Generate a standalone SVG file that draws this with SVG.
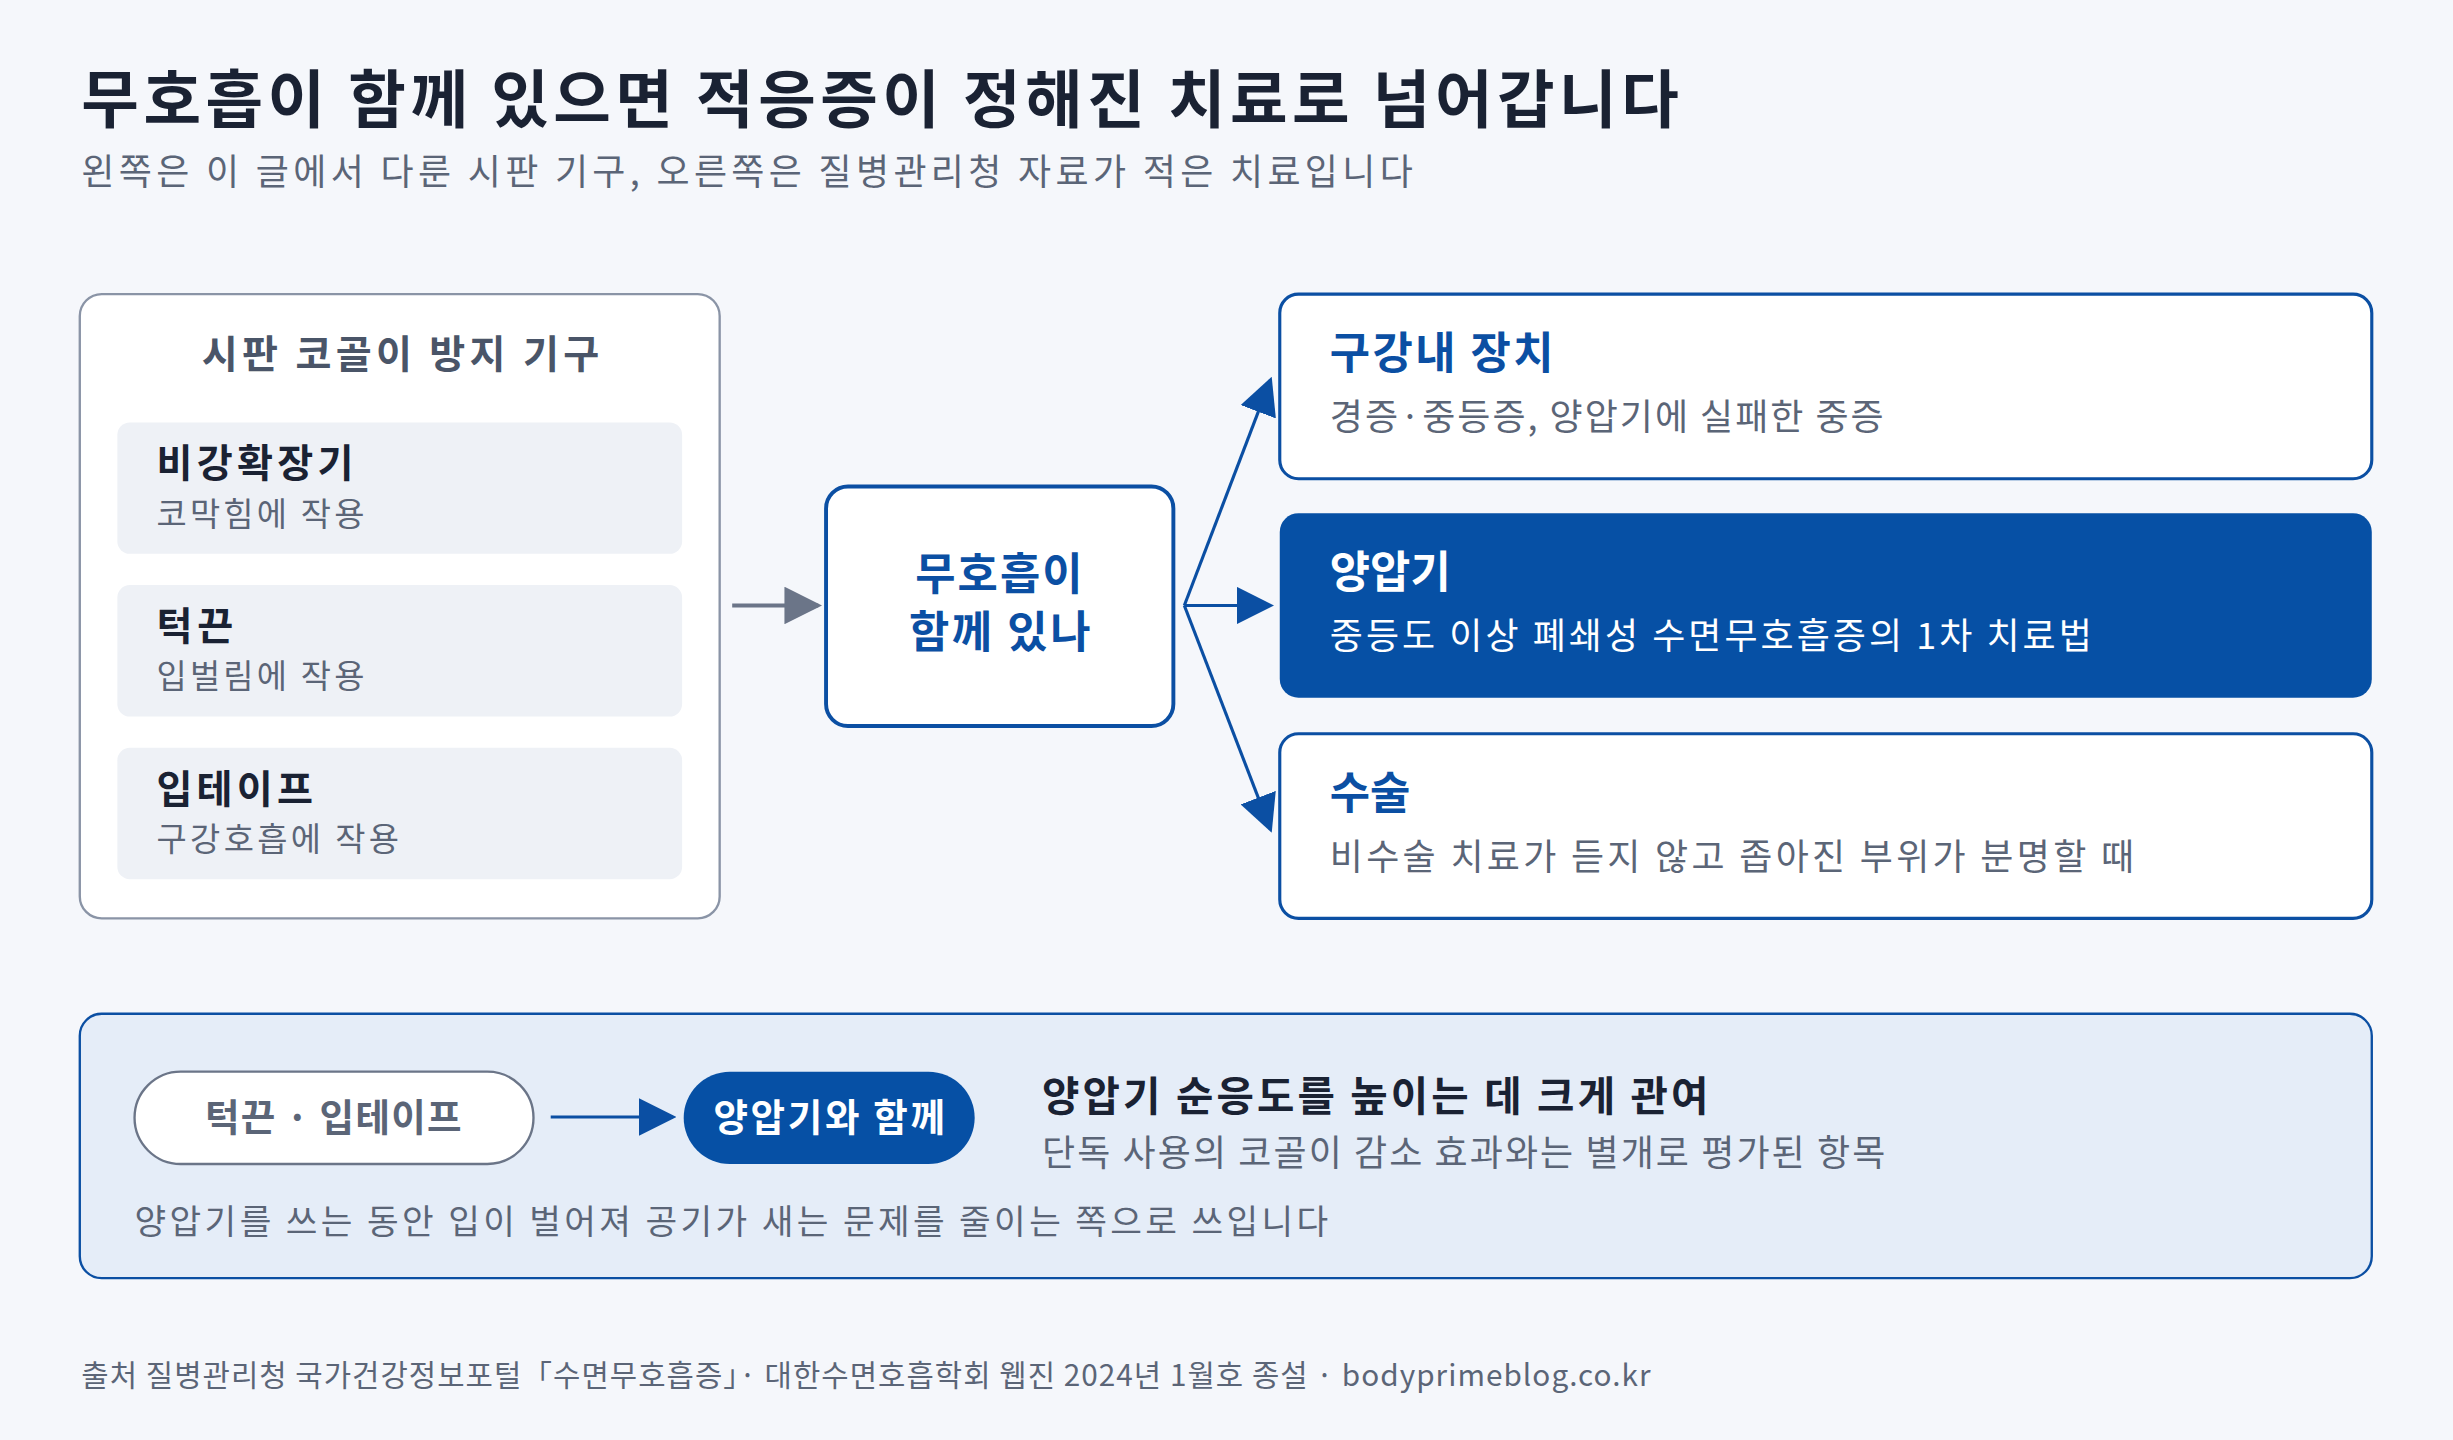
<svg xmlns="http://www.w3.org/2000/svg" width="2453" height="1440" viewBox="0 0 2453 1440">
<style>
text{font-family:"Noto Sans CJK KR","Noto Sans",sans-serif}
.b{font-weight:700}
.t{fill:#1a2233}.g{fill:#5b6577}.bl{fill:#0b4fa3}.w{fill:#fff}
.card{fill:#fff;stroke:#0b4fa3;stroke-width:2}
.item{fill:#eef1f6}
</style>
<defs>
<marker id="ab" viewBox="0 0 10 10" refX="9" refY="5" markerUnits="userSpaceOnUse" markerWidth="24" markerHeight="24" orient="auto"><path d="M0,0L10,5L0,10z" fill="#0b4fa3"/></marker>
<marker id="ag" viewBox="0 0 10 10" refX="9" refY="5" markerUnits="userSpaceOnUse" markerWidth="24" markerHeight="24" orient="auto"><path d="M0,0L10,5L0,10z" fill="#6b7588"/></marker>
</defs>
<rect width="2453" height="1440" fill="#f5f7fb"/>
<g transform="scale(1.5645)">
<g id="title"><text x="52" y="78" font-size="40" class="b t" textLength="1021" lengthAdjust="spacing">무호흡이 함께 있으면 적응증이 정해진 치료로 넘어갑니다</text>
<text x="52" y="118" font-size="23" class="g" textLength="851" lengthAdjust="spacing">왼쪽은 이 글에서 다룬 시판 기구, 오른쪽은 질병관리청 자료가 적은 치료입니다</text></g>
<g id="devices">
<rect x="51" y="188" width="409" height="399" rx="14" fill="#fff" stroke="#8a94a6" stroke-width="1.5"/>
<text x="129" y="235" font-size="25" class="b" fill="#4a5568" textLength="254" lengthAdjust="spacing">시판 코골이 방지 기구</text>
<rect x="75" y="270" width="361" height="84" rx="8" class="item"/>
<text x="100" y="305" font-size="25" class="b t" textLength="126" lengthAdjust="spacing">비강확장기</text><text x="100" y="336" font-size="21" class="g" textLength="133" lengthAdjust="spacing">코막힘에 작용</text>
<rect x="75" y="374" width="361" height="84" rx="8" class="item"/>
<text x="100" y="409" font-size="25" class="b t" textLength="49" lengthAdjust="spacing">턱끈</text><text x="100" y="440" font-size="21" class="g" textLength="133" lengthAdjust="spacing">입벌림에 작용</text>
<rect x="75" y="478" width="361" height="84" rx="8" class="item"/>
<text x="100" y="513" font-size="25" class="b t" textLength="100" lengthAdjust="spacing">입테이프</text><text x="100" y="544" font-size="21" class="g" textLength="155" lengthAdjust="spacing">구강호흡에 작용</text>
</g>
<g id="q"><rect x="528" y="311" width="222" height="153" rx="14" fill="#fff" stroke="#0b4fa3" stroke-width="2.5"/>
<text x="585" y="377" font-size="28" class="b bl" textLength="107" lengthAdjust="spacing">무호흡이</text>
<text x="581" y="414" font-size="28" class="b bl" textLength="116" lengthAdjust="spacing">함께 있나</text></g>
<g id="r1"><rect x="818" y="188" width="698" height="118" rx="12" class="card"/>
<text x="850" y="236" font-size="28" class="b bl" textLength="143" lengthAdjust="spacing">구강내 장치</text><text x="850" y="275" font-size="23" class="g" textLength="354" lengthAdjust="spacing">경증·중등증, 양압기에 실패한 중증</text></g>
<g id="r2"><rect x="818" y="328" width="698" height="118" rx="12" fill="#0650a5"/>
<text x="850" y="376" font-size="28" class="b w">양압기</text><text x="850" y="415" font-size="23" class="w" textLength="487" lengthAdjust="spacing">중등도 이상 폐쇄성 수면무호흡증의 1차 치료법</text></g>
<g id="r3"><rect x="818" y="469" width="698" height="118" rx="12" class="card"/>
<text x="850" y="517" font-size="28" class="b bl">수술</text><text x="850" y="556" font-size="23" class="g" textLength="514" lengthAdjust="spacing">비수술 치료가 듣지 않고 좁아진 부위가 분명할 때</text></g>
<g id="bottom"><rect x="51" y="648" width="1465" height="169" rx="14" fill="#e5edf8" stroke="#0b4fa3" stroke-width="1.5"/>
<rect x="86" y="685" width="255" height="59" rx="29.5" fill="#fff" stroke="#6b7588" stroke-width="1.5"/>
<text x="131" y="723" font-size="24" class="b" fill="#5b6577" textLength="164" lengthAdjust="spacing">턱끈 · 입테이프</text>
<rect x="437" y="685" width="186" height="59" rx="29.5" fill="#0650a5"/>
<text x="456" y="723" font-size="24" class="b w" textLength="148" lengthAdjust="spacing">양압기와 함께</text>
<text x="666" y="710" font-size="26" class="b t" textLength="426" lengthAdjust="spacing">양압기 순응도를 높이는 데 크게 관여</text>
<text x="666" y="745" font-size="23" class="g" textLength="539" lengthAdjust="spacing">단독 사용의 코골이 감소 효과와는 별개로 평가된 항목</text>
<text x="86" y="789" font-size="22" class="g" textLength="763" lengthAdjust="spacing">양압기를 쓰는 동안 입이 벌어져 공기가 새는 문제를 줄이는 쪽으로 쓰입니다</text></g>
<g id="connectors" fill="none" stroke-width="2">
<path d="M468,387H523" stroke="#6b7588" stroke-width="2.5" marker-end="url(#ag)"/>
<path d="M757,387L812,243" stroke="#0b4fa3" marker-end="url(#ab)"/>
<path d="M757,387H812" stroke="#0b4fa3" marker-end="url(#ab)"/>
<path d="M757,387L812,530" stroke="#0b4fa3" marker-end="url(#ab)"/>
<path d="M352,714H430" stroke="#0b4fa3" marker-end="url(#ab)"/>
</g>
<g id="footer"><text x="52" y="886" font-size="19" class="g" textLength="1003" lengthAdjust="spacing">출처 질병관리청 국가건강정보포털「수면무호흡증」· 대한수면호흡학회 웹진 2024년 1월호 종설 · bodyprimeblog.co.kr</text></g>
</g>
</svg>
